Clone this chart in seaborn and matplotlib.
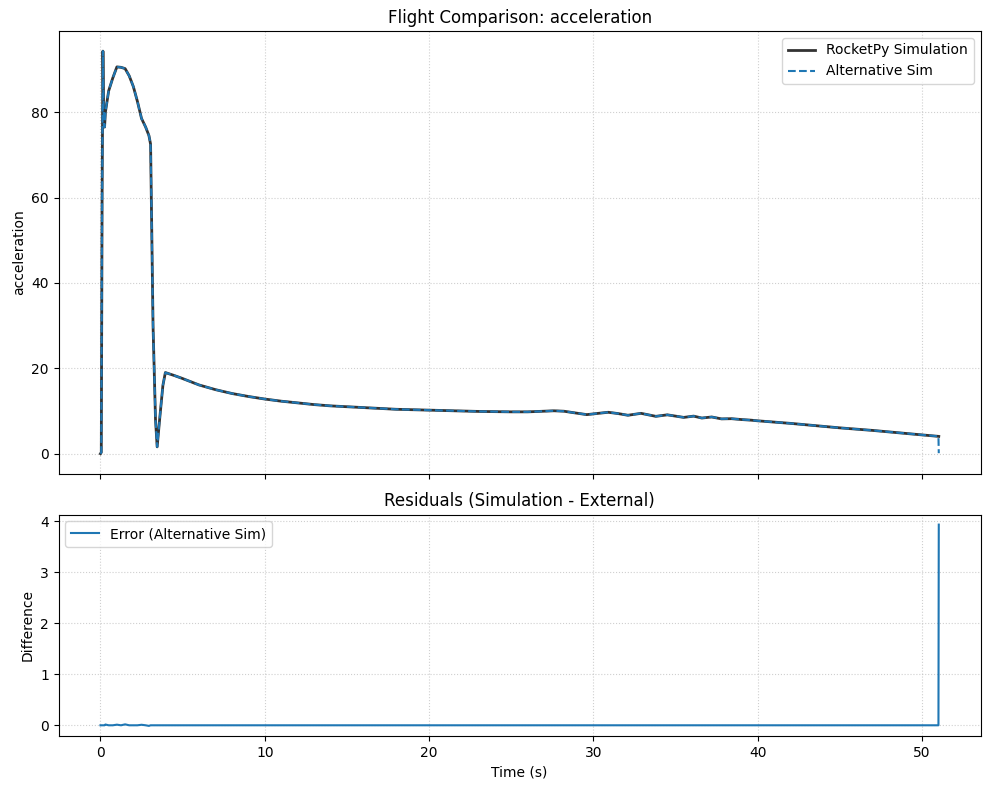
"""Flight comparison: RocketPy vs alternative sim, with residuals."""
import matplotlib
matplotlib.use("Agg")
import matplotlib.pyplot as plt
import numpy as np
import pandas as pd
import seaborn as sns

time_s = [
    0.0, 0.05, 0.1, 0.15, 0.2, 0.25, 0.3, 0.5, 0.75, 1.0, 1.25, 1.5, 1.75,
    2.0, 2.25, 2.5, 2.75, 2.95, 3.05, 3.2, 3.35, 3.45, 3.6, 3.8, 3.95,
    4.5, 5, 6, 7, 8, 9, 10, 11, 12, 13, 14, 15, 16, 17, 18, 19, 20, 21,
    22, 23, 24, 25, 26, 27, 27.6, 28.2, 28.8, 29.6, 30.3, 30.9, 31.5, 32.1,
    32.9, 33.8, 34.5, 35.5, 36.1, 36.6, 37.2, 37.8, 38.4, 39.0, 39.6, 40,
    41, 42, 43, 44, 45, 46, 47, 48, 49, 50, 51.0, 51.02,
]
sim_acc = [
    0.0, 0.3, 60.0, 94.3, 77.0, 76.5, 80.0, 85.0, 88.0, 90.6, 90.5, 90.2,
    88.5, 86.0, 82.5, 78.5, 76.5, 74.5, 72.5, 30.0, 8.0, 1.6, 8.0, 16.0,
    19.0, 18.3, 17.6, 16.1, 15.0, 14.1, 13.4, 12.8, 12.3, 11.9, 11.5, 11.2,
    11.0, 10.8, 10.6, 10.4, 10.3, 10.2, 10.1, 10.0, 9.9, 9.85, 9.8, 9.8,
    9.95, 10.05, 9.95, 9.6, 9.15, 9.45, 9.7, 9.4, 9.0, 9.45, 8.75, 9.1,
    8.5, 8.8, 8.35, 8.6, 8.15, 8.2, 8.0, 7.85, 7.7, 7.4, 7.1, 6.75, 6.4,
    6.05, 5.75, 5.45, 5.1, 4.75, 4.4, 4.06, 4.05,
]
# simulation - external
residual = [0.0] * len(time_s)
for idx, val in {6: 0.015, 9: 0.012, 11: 0.018, 15: 0.01, 17: -0.012}.items():
    residual[idx] = val
residual[-1] = 3.93

alt_acc = list(np.array(sim_acc) - np.array(residual))

df = pd.DataFrame({"time": time_s, "sim": sim_acc, "alt": alt_acc, "res": residual})

fig, (ax1, ax2) = plt.subplots(
    2, 1, figsize=(9.89, 7.9), dpi=100, sharex=True,
    gridspec_kw={"height_ratios": [2, 1]},
)

sns.lineplot(data=df, x="time", y="sim", ax=ax1, color="#333333",
             linewidth=2, estimator=None, sort=False, label="RocketPy Simulation")
sns.lineplot(data=df, x="time", y="alt", ax=ax1, color="#1f77b4",
             linewidth=1.5, linestyle="--", estimator=None, sort=False,
             label="Alternative Sim")
ax1.set_title("Flight Comparison: acceleration")
ax1.set_ylabel("acceleration")
ax1.set_xlabel("")
ax1.grid(True, linestyle=":", alpha=0.6)
ax1.legend(loc="upper right")

sns.lineplot(data=df, x="time", y="res", ax=ax2, color="#1f77b4",
             linewidth=1.5, estimator=None, sort=False,
             label="Error (Alternative Sim)")
ax2.set_title("Residuals (Simulation - External)")
ax2.set_ylabel("Difference")
ax2.set_xlabel("Time (s)")
ax2.grid(True, linestyle=":", alpha=0.6)
ax2.legend(loc="upper left")

fig.subplots_adjust(left=0.0592, right=0.9916, top=0.9608, bottom=0.0684,
                    hspace=0.1226)
fig.savefig("out.png", dpi=100)
